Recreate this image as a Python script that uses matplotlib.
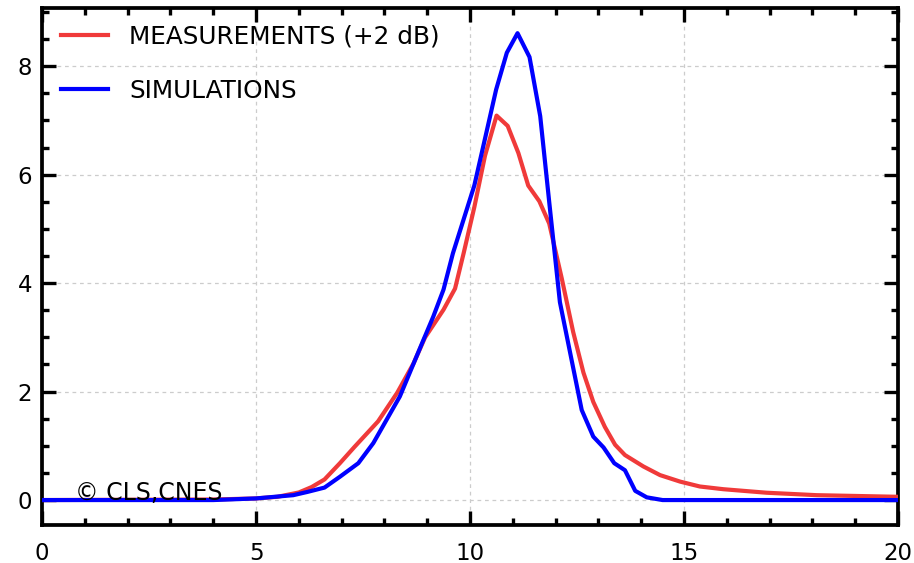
import matplotlib
matplotlib.use("Agg")
import matplotlib.pyplot as plt
from matplotlib.ticker import MultipleLocator

# ---- data ----
meas_x = [0.0, 4.0, 5.0, 5.5, 6.0, 6.3, 6.6, 6.96, 7.3, 7.85, 8.3, 8.68, 8.95,
          9.38, 9.65, 9.85, 10.1, 10.35, 10.62, 10.88, 11.13, 11.36, 11.62,
          11.85, 12.14, 12.41, 12.65, 12.88, 13.15, 13.39, 13.62, 14.05, 14.44,
          14.91, 15.37, 15.92, 16.93, 18.1, 20.0]
meas_y = [0.0, 0.01, 0.03, 0.06, 0.14, 0.24, 0.38, 0.68, 0.98, 1.45, 1.98, 2.52,
          3.0, 3.51, 3.9, 4.55, 5.4, 6.35, 7.09, 6.9, 6.4, 5.8, 5.51, 5.1, 4.1,
          3.1, 2.35, 1.81, 1.35, 1.02, 0.83, 0.62, 0.46, 0.34, 0.25, 0.2, 0.135,
          0.09, 0.06]

sim_x = [0.0, 4.0, 5.0, 5.87, 6.2, 6.6, 6.96, 7.39, 7.74, 8.05, 8.36, 8.91, 9.14,
         9.38, 9.6, 10.1, 10.36, 10.61, 10.86, 11.11, 11.39, 11.64, 11.85, 12.1,
         12.61, 12.88, 13.12, 13.37, 13.62, 13.86, 14.13, 14.5, 20.0]
sim_y = [0.0, 0.0, 0.03, 0.09, 0.15, 0.23, 0.43, 0.68, 1.05, 1.48, 1.91, 2.95,
         3.38, 3.88, 4.55, 5.8, 6.7, 7.57, 8.25, 8.61, 8.17, 7.08, 5.5, 3.65,
         1.66, 1.17, 0.97, 0.68, 0.55, 0.17, 0.05, 0.0, 0.0]

series_labels = ["MEASUREMENTS (+2 dB)", "SIMULATIONS"]
x_ticks = [0, 5, 10, 15, 20]
y_ticks = [0, 2, 4, 6, 8]
credit = "\u00a9 CLS,CNES"

# ---- figure ----
fig = plt.figure(figsize=(9.14, 5.63), dpi=100)
ax = fig.add_axes([0.046, 0.0675, 0.9365, 0.9188])

ax.plot(meas_x, meas_y, color="#f03a3a", lw=3.0, label=series_labels[0],
        solid_joinstyle="round", zorder=3)
ax.plot(sim_x, sim_y, color="#0000ff", lw=3.0, label=series_labels[1],
        solid_joinstyle="round", zorder=4)

ax.set_xlim(0, 20)
ax.set_ylim(-0.46, 9.08)
ax.set_xticks(x_ticks)
ax.set_yticks(y_ticks)
ax.xaxis.set_minor_locator(MultipleLocator(1))
ax.yaxis.set_minor_locator(MultipleLocator(0.5))

ax.grid(True, which="major", color="#cccccc", lw=0.9, linestyle=(0, (3, 3)), zorder=0)

for s in ax.spines.values():
    s.set_linewidth(2.7)
    s.set_color("black")

ax.tick_params(which="both", direction="in", top=True, right=True,
               width=2.4, color="black", labelsize=16.5)
ax.tick_params(which="major", length=10)
ax.tick_params(which="minor", length=5)
ax.tick_params(axis="x", which="major", pad=12)
ax.tick_params(axis="y", which="major", pad=7)

ax.text(0.77, 0.0, credit, fontsize=17, ha="left", va="baseline", zorder=5)

leg = ax.legend(loc="upper left", bbox_to_anchor=(0.011, 0.986), frameon=False,
                fontsize=17.8, handlelength=1.9, handletextpad=0.85,
                labelspacing=1.2, borderaxespad=0.0)

fig.savefig("out.png", dpi=100, facecolor="white")
